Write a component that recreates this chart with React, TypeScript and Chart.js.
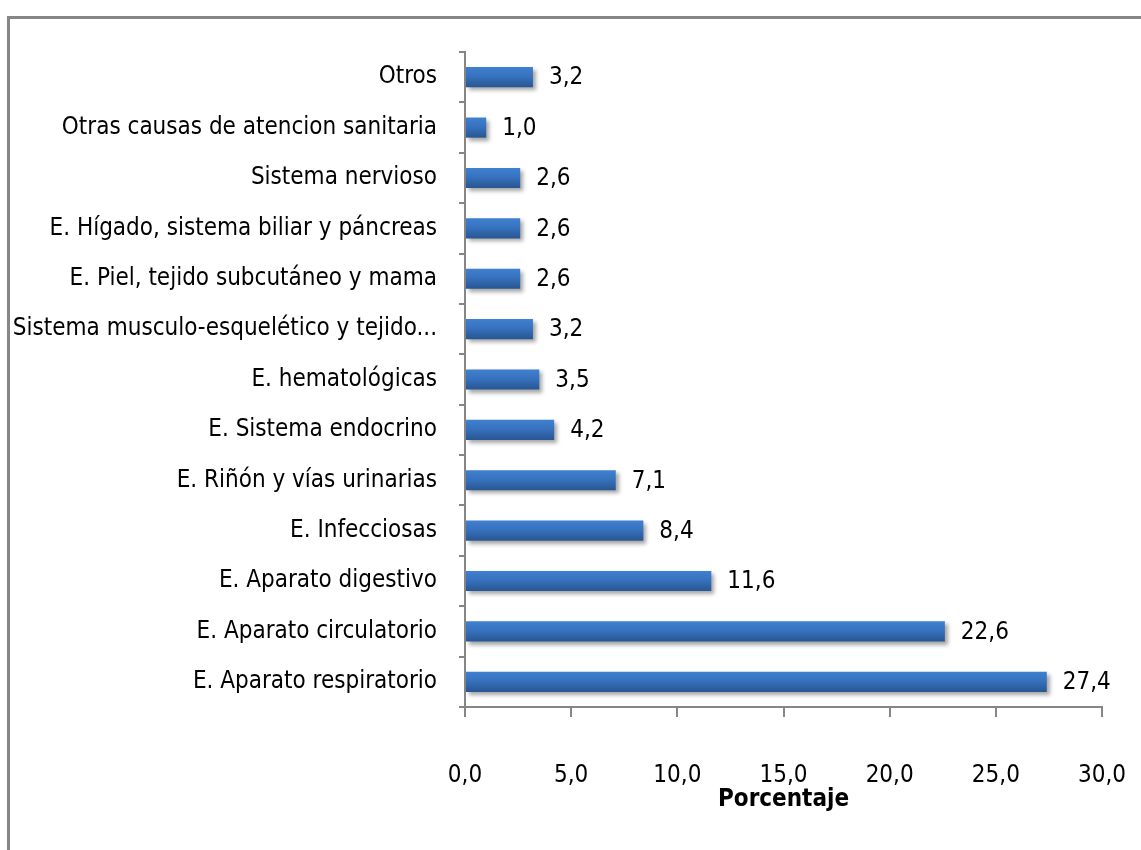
import React, { useEffect, useRef } from "react";
import { Chart, registerables } from "chart.js";

Chart.register(...registerables);

const categories: string[] = [
  "Otros",
  "Otras causas de atencion sanitaria",
  "Sistema nervioso",
  "E. Hígado, sistema biliar y páncreas",
  "E. Piel, tejido subcutáneo y mama",
  "Sistema musculo-esquelético y tejido...",
  "E. hematológicas",
  "E. Sistema endocrino",
  "E. Riñón y vías urinarias",
  "E. Infecciosas",
  "E. Aparato digestivo",
  "E. Aparato circulatorio",
  "E. Aparato respiratorio",
];

const percentages: number[] = [3.2, 1.0, 2.6, 2.6, 2.6, 3.2, 3.5, 4.2, 7.1, 8.4, 11.6, 22.6, 27.4];

const xTicks: number[] = [0, 5, 10, 15, 20, 25, 30];

const FONT = "'DejaVu Sans Condensed', 'Liberation Sans', sans-serif";
const fmt = (v: number) => v.toFixed(1).replace(".", ",");

const framePlugin = {
  id: "frame",
  beforeDraw(chart: any) {
    const c = chart.ctx;
    c.save();
    c.fillStyle = "#ffffff";
    c.fillRect(0, 0, chart.width, chart.height);
    c.strokeStyle = "#868686";
    c.lineWidth = 3;
    c.strokeRect(8.5, 17.5, chart.width + 20, chart.height + 20);
    c.restore();
  },
};

const shadowPlugin = {
  id: "barShadow",
  beforeDatasetDraw(chart: any) {
    const c = chart.ctx;
    c.save();
    c.shadowColor = "rgba(0,0,0,0.35)";
    c.shadowOffsetX = 3;
    c.shadowOffsetY = 3;
    c.shadowBlur = 4;
  },
  afterDatasetDraw(chart: any) {
    chart.ctx.restore();
  },
};

const valueLabelPlugin = {
  id: "valueLabels",
  afterDatasetsDraw(chart: any) {
    const c = chart.ctx;
    const meta = chart.getDatasetMeta(0);
    c.save();
    c.font = `24px ${FONT}`;
    c.fillStyle = "#000000";
    c.textAlign = "left";
    c.textBaseline = "middle";
    meta.data.forEach((bar: any, i: number) => {
      const v = chart.data.datasets[0].data[i] as number;
      c.fillText(fmt(v), bar.x + 16, bar.y + 1);
    });
    c.restore();
  },
};

export default function App() {
  const ref = useRef<HTMLCanvasElement | null>(null);

  useEffect(() => {
    document.body.style.margin = "0";
    if (!ref.current) return;
    const chart = new Chart(ref.current, {
      type: "bar",
      data: {
        labels: categories,
        datasets: [
          {
            data: percentages,
            borderWidth: 0,
            categoryPercentage: 1,
            barPercentage: 0.4,
            backgroundColor: (ctx: any) => {
              const ch = ctx.chart;
              const ys = ch.scales && ch.scales.y;
              if (!ys || !ch.chartArea) return "#3a70b8";
              const yc = ys.getPixelForValue(ctx.dataIndex);
              const half = 10;
              const g = ch.ctx.createLinearGradient(0, yc - half, 0, yc + half);
              g.addColorStop(0, "#3f80d0");
              g.addColorStop(0.45, "#3772be");
              g.addColorStop(1, "#285692");
              return g;
            },
          },
        ],
      },
      options: {
        indexAxis: "y",
        responsive: false,
        animation: false,
        layout: { padding: { left: 0, right: 39, top: 52, bottom: 0 } },
        plugins: {
          legend: { display: false },
          tooltip: { enabled: false },
        },
        scales: {
          x: {
            min: 0,
            max: 30,
            afterBuildTicks: (scale: any) => {
              scale.ticks = xTicks.map((v) => ({ value: v }));
            },
            afterFit: (scale: any) => {
              scale.height = 850 - 707;
              scale.paddingLeft = 0;
              scale.paddingRight = 0;
            },
            border: { display: true, color: "#868686", width: 2 },
            grid: {
              display: true,
              drawOnChartArea: false,
              drawTicks: true,
              tickLength: 10,
              color: "#868686",
              lineWidth: 2,
            },
            ticks: {
              color: "#000000",
              font: { family: FONT, size: 24 },
              padding: 44,
              callback: (v: any) => fmt(Number(v)),
              maxRotation: 0,
            },
            title: {
              display: true,
              text: "Porcentaje",
              color: "#000000",
              font: { family: FONT, size: 24, weight: "bold" },
              padding: { top: 2, bottom: 36 },
            },
          },
          y: {
            afterFit: (scale: any) => {
              scale.width = 465;
            },
            border: { display: true, color: "#868686", width: 2 },
            grid: {
              display: true,
              offset: true,
              drawOnChartArea: false,
              drawTicks: true,
              tickLength: 6,
              color: "#868686",
              lineWidth: 2,
            },
            ticks: {
              color: "#000000",
              font: { family: FONT, size: 24 },
              padding: 22,
              autoSkip: false,
            },
          },
        },
      },
      plugins: [framePlugin, shadowPlugin, valueLabelPlugin],
    } as any);
    return () => chart.destroy();
  }, []);

  return (
    <div style={{ position: "absolute", left: 0, top: 0, width: 1141, height: 850 }}>
      <canvas ref={ref} width={1141} height={850} style={{ width: 1141, height: 850, display: "block" }} />
    </div>
  );
}
